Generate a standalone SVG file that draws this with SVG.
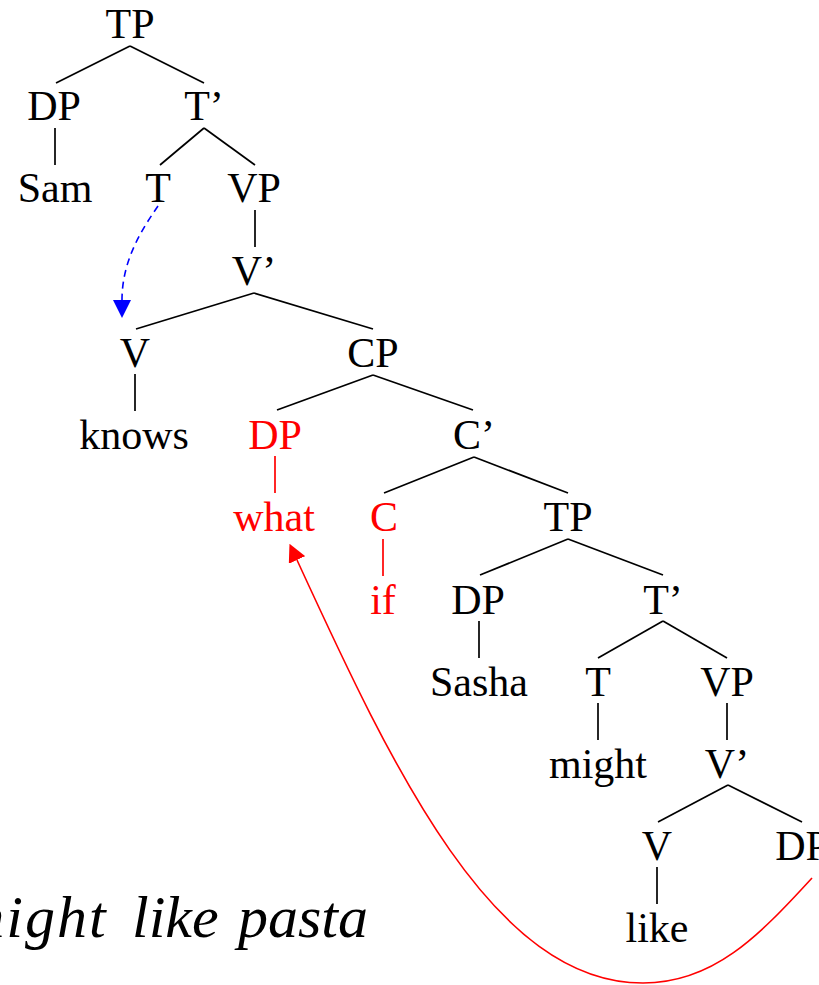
<svg xmlns="http://www.w3.org/2000/svg" width="819" height="985" viewBox="0 0 819 985">
<style>
text{font-family:"Liberation Serif","Times New Roman",serif;font-size:42px;text-anchor:middle;fill:#000}
.red{fill:#f00}
.it{font-style:italic;font-size:60px;text-anchor:start}
.e{stroke:#000;stroke-width:1.7;fill:none;stroke-linecap:butt}
.er{stroke:#f00;stroke-width:1.7;fill:none}
</style>
<defs>
<marker id="ahr" markerUnits="userSpaceOnUse" markerWidth="18" markerHeight="18" viewBox="0 0 17 17" refX="0" refY="8.5" orient="auto"><path d="M0,0 L17,8.5 L0,17 z" fill="#f00"/></marker>
<marker id="ahb" markerUnits="userSpaceOnUse" markerWidth="18" markerHeight="18" viewBox="0 0 17 17" refX="0" refY="8.5" orient="auto"><path d="M0,0 L17,8.5 L0,17 z" fill="#00f"/></marker>
</defs>
<rect width="819" height="985" fill="#fff"/>

<g id="connectors">
<line class="e" x1="130" y1="46" x2="56" y2="83"/>
<line class="e" x1="130" y1="46" x2="204" y2="83"/>
<line class="e" x1="55" y1="128" x2="55" y2="165"/>
<line class="e" x1="204" y1="128" x2="160" y2="165"/>
<line class="e" x1="204" y1="128" x2="255" y2="165"/>
<line class="e" x1="255" y1="210" x2="255" y2="247"/>
<line class="e" x1="254" y1="293" x2="136" y2="329"/>
<line class="e" x1="254" y1="293" x2="373" y2="329"/>
<line class="e" x1="135" y1="374" x2="135" y2="411"/>
<line class="e" x1="373" y1="375" x2="277" y2="410"/>
<line class="e" x1="373" y1="375" x2="473" y2="410"/>
<line class="er" x1="275" y1="456" x2="275" y2="493"/>
<line class="e" x1="474" y1="457" x2="384" y2="493"/>
<line class="e" x1="474" y1="457" x2="568" y2="493"/>
<line class="er" x1="383" y1="539" x2="383" y2="576"/>
<line class="e" x1="568" y1="539" x2="480" y2="575"/>
<line class="e" x1="568" y1="539" x2="663" y2="575"/>
<line class="e" x1="479" y1="621" x2="479" y2="658"/>
<line class="e" x1="663" y1="621" x2="598" y2="658"/>
<line class="e" x1="663" y1="621" x2="727" y2="658"/>
<line class="e" x1="598" y1="703" x2="598" y2="740"/>
<line class="e" x1="727" y1="703" x2="727" y2="740"/>
<line class="e" x1="728" y1="785" x2="658" y2="822"/>
<line class="e" x1="728" y1="785" x2="802" y2="822"/>
<line class="e" x1="657" y1="867" x2="657" y2="904"/>
<path d="M158,206 C140,232 122,262 122,300" stroke="#00f" stroke-width="1.6" fill="none" stroke-dasharray="7,5" marker-end="url(#ahb)"/>
<path d="M812,878 C758,937 713,983 643,983 C493,983 393,769 297,560" stroke="#f00" stroke-width="1.6" fill="none" marker-end="url(#ahr)"/>
</g>

<g id="n-tp1"><text x="130" y="38">TP</text></g>
<g id="n-dp1"><text x="54" y="120">DP</text></g>
<g id="n-tbar1"><text x="204" y="120">T’</text></g>
<g id="n-sam"><text x="55" y="202">Sam</text></g>
<g id="n-t1"><text x="158" y="202">T</text></g>
<g id="n-vp1"><text x="254" y="202">VP</text></g>
<g id="n-vbar1"><text x="254" y="285">V’</text></g>
<g id="n-v1"><text x="135" y="367">V</text></g>
<g id="n-cp"><text x="373" y="367">CP</text></g>
<g id="n-knows"><text x="134" y="449">knows</text></g>
<g id="n-dp2"><text class="red" x="275" y="449">DP</text></g>
<g id="n-cbar"><text x="474" y="449">C’</text></g>
<g id="n-what"><text class="red" x="274" y="531">what</text></g>
<g id="n-c"><text class="red" x="384" y="531">C</text></g>
<g id="n-tp2"><text x="568" y="531">TP</text></g>
<g id="n-if"><text class="red" x="383" y="614">if</text></g>
<g id="n-dp3"><text x="478" y="614">DP</text></g>
<g id="n-tbar2"><text x="663" y="614">T’</text></g>
<g id="n-sasha"><text x="479" y="696">Sasha</text></g>
<g id="n-t2"><text x="598" y="696">T</text></g>
<g id="n-vp2"><text x="727" y="696">VP</text></g>
<g id="n-might"><text x="598" y="778">might</text></g>
<g id="n-vbar2"><text x="727" y="778">V’</text></g>
<g id="n-v2"><text x="657" y="860">V</text></g>
<g id="n-dp4"><text x="802" y="860">DP</text></g>
<g id="n-like"><text x="657" y="942">like</text></g>

<text class="it" y="937"><tspan x="-39" letter-spacing="2">might</tspan><tspan x="132">like</tspan><tspan x="238">pasta</tspan></text>
</svg>
